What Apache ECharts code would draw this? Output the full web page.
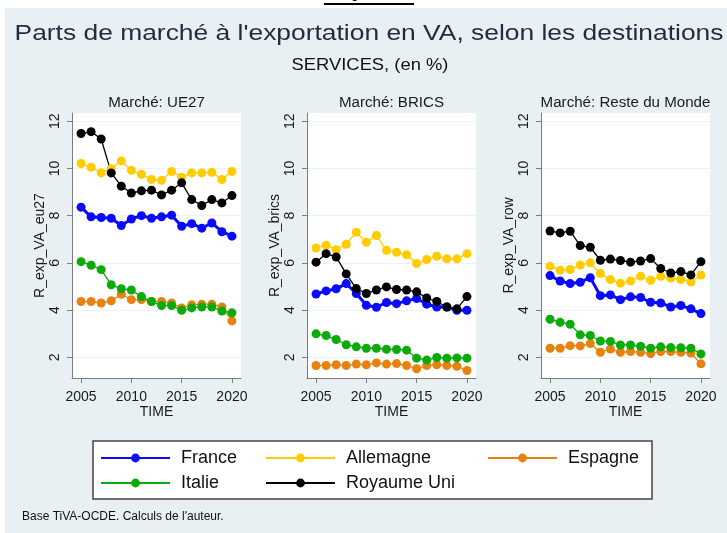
<!DOCTYPE html>
<html>
<head>
<meta charset="utf-8">
<script src="https://cdn.jsdelivr.net/npm/echarts@6/dist/echarts.min.js"></script>
<style>
  html, body { margin: 0; padding: 0; background: #fff; }
  #chart { width: 727px; height: 533px; }
</style>
</head>
<body>
<div id="chart"></div>
<script>
const years = [2005, 2006, 2007, 2008, 2009, 2010, 2011, 2012, 2013, 2014, 2015, 2016, 2017, 2018, 2019, 2020]
const yTicks = [2, 4, 6, 8, 10, 12]
const xTicks = [2005, 2010, 2015, 2020]

const countries = ['France', 'Allemagne', 'Espagne', 'Italie', 'Royaume Uni']
const colors = ['#0a0aff', '#ffcc00', '#e8820e', '#0aab0a', '#000000']
const widths = [3, 1.3, 1.3, 1.3, 1.3]

const markets = ['Marché: UE27', 'Marché: BRICS', 'Marché: Reste du Monde']
const yNames = ['R_exp_VA_eu27', 'R_exp_VA_brics', 'R_exp_VA_row']

// UE27
const eu_france = [8.36, 7.95, 7.92, 7.89, 7.58, 7.86, 8.00, 7.89, 7.95, 8.02, 7.55, 7.66, 7.47, 7.69, 7.32, 7.13]
const eu_allemagne = [10.21, 10.05, 9.81, 9.99, 10.32, 9.92, 9.75, 9.53, 9.50, 9.87, 9.63, 9.81, 9.81, 9.84, 9.53, 9.87]
const eu_espagne = [4.36, 4.36, 4.30, 4.39, 4.67, 4.44, 4.44, 4.36, 4.36, 4.30, 4.09, 4.22, 4.25, 4.25, 4.13, 3.54]
const eu_italie = [6.05, 5.90, 5.71, 5.07, 4.90, 4.85, 4.57, 4.36, 4.19, 4.19, 3.99, 4.09, 4.13, 4.13, 3.96, 3.88]
const eu_ru = [11.48, 11.56, 11.25, 9.81, 9.25, 8.96, 9.05, 9.08, 8.88, 9.08, 9.39, 8.68, 8.43, 8.68, 8.54, 8.85]

// BRICS
const br_france = [4.68, 4.81, 4.90, 5.12, 4.70, 4.20, 4.12, 4.32, 4.27, 4.39, 4.49, 4.25, 4.13, 4.13, 3.99, 3.99]
const br_allemagne = [6.63, 6.75, 6.56, 6.79, 7.30, 6.87, 7.16, 6.53, 6.45, 6.34, 5.97, 6.14, 6.28, 6.17, 6.17, 6.39]
const br_espagne = [1.65, 1.65, 1.68, 1.65, 1.71, 1.68, 1.76, 1.71, 1.73, 1.65, 1.51, 1.65, 1.68, 1.65, 1.62, 1.44]
const br_italie = [2.99, 2.92, 2.75, 2.53, 2.44, 2.38, 2.38, 2.34, 2.33, 2.30, 1.96, 1.88, 1.99, 1.96, 1.97, 1.96]
const br_ru = [6.03, 6.39, 6.25, 5.53, 4.91, 4.70, 4.85, 4.98, 4.87, 4.85, 4.77, 4.51, 4.36, 4.13, 4.05, 4.57]

// Reste du Monde
const row_france = [5.46, 5.23, 5.12, 5.18, 5.37, 4.61, 4.64, 4.44, 4.56, 4.53, 4.33, 4.30, 4.13, 4.19, 4.05, 3.85]
const row_allemagne = [5.86, 5.69, 5.72, 5.91, 6.00, 5.55, 5.29, 5.14, 5.23, 5.43, 5.26, 5.43, 5.35, 5.29, 5.19, 5.48]
const row_espagne = [2.38, 2.38, 2.49, 2.48, 2.58, 2.21, 2.35, 2.21, 2.24, 2.21, 2.16, 2.24, 2.24, 2.21, 2.18, 1.72]
const row_italie = [3.61, 3.48, 3.40, 2.95, 2.92, 2.69, 2.67, 2.52, 2.52, 2.47, 2.38, 2.44, 2.41, 2.40, 2.38, 2.14]
const row_ru = [7.35, 7.27, 7.34, 6.73, 6.66, 6.11, 6.16, 6.10, 6.03, 6.08, 6.18, 5.76, 5.57, 5.63, 5.49, 6.05]

const panels = [
  [eu_france, eu_allemagne, eu_espagne, eu_italie, eu_ru],
  [br_france, br_allemagne, br_espagne, br_italie, br_ru],
  [row_france, row_allemagne, row_espagne, row_italie, row_ru]
]

const font = 'Liberation Sans, Arial, sans-serif'
const gridLefts = [72, 307, 541]
const gridTop = 113
const gridW = 169
const gridH = 265

const grids = gridLefts.map(l => ({
  left: l, top: gridTop, width: gridW, height: gridH,
  show: true, backgroundColor: '#ffffff', borderWidth: 0
}))

const xAxes = gridLefts.map((_, i) => ({
  type: 'value', gridIndex: i, min: 2004.1, max: 2020.9,
  name: 'TIME', nameLocation: 'middle', nameGap: 23,
  nameTextStyle: { color: '#1a1a1a', fontSize: 14, fontFamily: font },
  axisLine: { show: true, lineStyle: { color: '#7d7d7d', width: 1 } },
  axisTick: { show: true, length: 5, customValues: xTicks, lineStyle: { color: '#7d7d7d' } },
  axisLabel: {
    customValues: xTicks, margin: 12, color: '#1a1a1a', fontSize: 14, fontFamily: font,
    formatter: v => String(v)
  },
  splitLine: { show: false }
}))

const yAxes = gridLefts.map((_, i) => ({
  type: 'value', gridIndex: i, min: 1.12, max: 12.35,
  name: yNames[i], nameLocation: 'middle', nameGap: 25,
  nameTextStyle: { color: '#1a1a1a', fontSize: 14, fontFamily: font },
  axisLine: { show: true, lineStyle: { color: '#7d7d7d', width: 1 } },
  axisTick: { show: true, length: 5, customValues: yTicks, lineStyle: { color: '#7d7d7d' } },
  axisLabel: { customValues: yTicks, rotate: 90, margin: 10, color: '#1a1a1a', fontSize: 14, fontFamily: font },
  splitLine: { show: true, lineStyle: { color: '#edf2f4', width: 1.2 } }
}))

const series = []
panels.forEach((vals, p) => {
  vals.forEach((v, c) => {
    series.push({
      name: countries[c],
      type: 'line',
      xAxisIndex: p, yAxisIndex: p,
      data: years.map((y, k) => [y, v[k]]),
      symbol: 'circle', symbolSize: 9,
      itemStyle: { color: colors[c] },
      lineStyle: { color: colors[c], width: widths[c] },
      emphasis: { disabled: true },
      animation: false
    })
  })
})

const legendCols = [['France', 'Italie'], ['Allemagne', 'Royaume Uni'], ['Espagne']]
const legendLefts = [100, 265, 487]
const legends = legendCols.map((d, i) => ({
  data: d, orient: 'vertical', left: legendLefts[i], top: 449,
  itemWidth: 69, itemHeight: 11, itemGap: 7, padding: 0,
  selectedMode: false,
  textStyle: { color: '#111', fontSize: 18, fontFamily: font, padding: [0, 0, 0, 6] }
}))

const graphic = [
  { type: 'rect', z: -10, shape: { x: 5, y: 8, width: 722, height: 525 }, style: { fill: '#e9f0f3' } },
  { type: 'text', x: 369, y: 1, style: { text: 'Figure 21', font: '14px ' + font, fill: '#000', textAlign: 'center', textVerticalAlign: 'bottom' } },
  { type: 'line', shape: { x1: 324, y1: 4, x2: 414, y2: 4 }, style: { stroke: '#000', lineWidth: 2 } },
  { type: 'text', x: 369, y: 34, scaleX: 1.2, style: { text: "Parts de marché à l'exportation en VA, selon les destinations", font: '22px ' + font, fill: '#1e2c3c', textAlign: 'center', textVerticalAlign: 'middle' } },
  { type: 'text', x: 370, y: 65, scaleX: 1.08, style: { text: 'SERVICES, (en %)', font: '17px ' + font, fill: '#111', textAlign: 'center', textVerticalAlign: 'middle' } },
  { type: 'rect', z: 0, shape: { x: 93, y: 441, width: 559, height: 58 }, style: { fill: '#fff', stroke: '#444', lineWidth: 1.5 } },
  { type: 'text', x: 22, y: 517, style: { text: "Base TiVA-OCDE. Calculs de l'auteur.", font: '12px ' + font, fill: '#111', textVerticalAlign: 'middle' } }
]
markets.forEach((m, i) => {
  graphic.push({ type: 'text', x: gridLefts[i] + gridW / 2, y: 103, scaleX: 1.08, style: { text: m, font: '14px ' + font, fill: '#1a1a1a', textAlign: 'center', textVerticalAlign: 'middle' } })
})

const chart = echarts.init(document.getElementById('chart'))
chart.setOption({
  backgroundColor: '#ffffff',
  animation: false,
  grid: grids,
  xAxis: xAxes,
  yAxis: yAxes,
  legend: legends,
  series: series,
  graphic: graphic
})
</script>
</body>
</html>
